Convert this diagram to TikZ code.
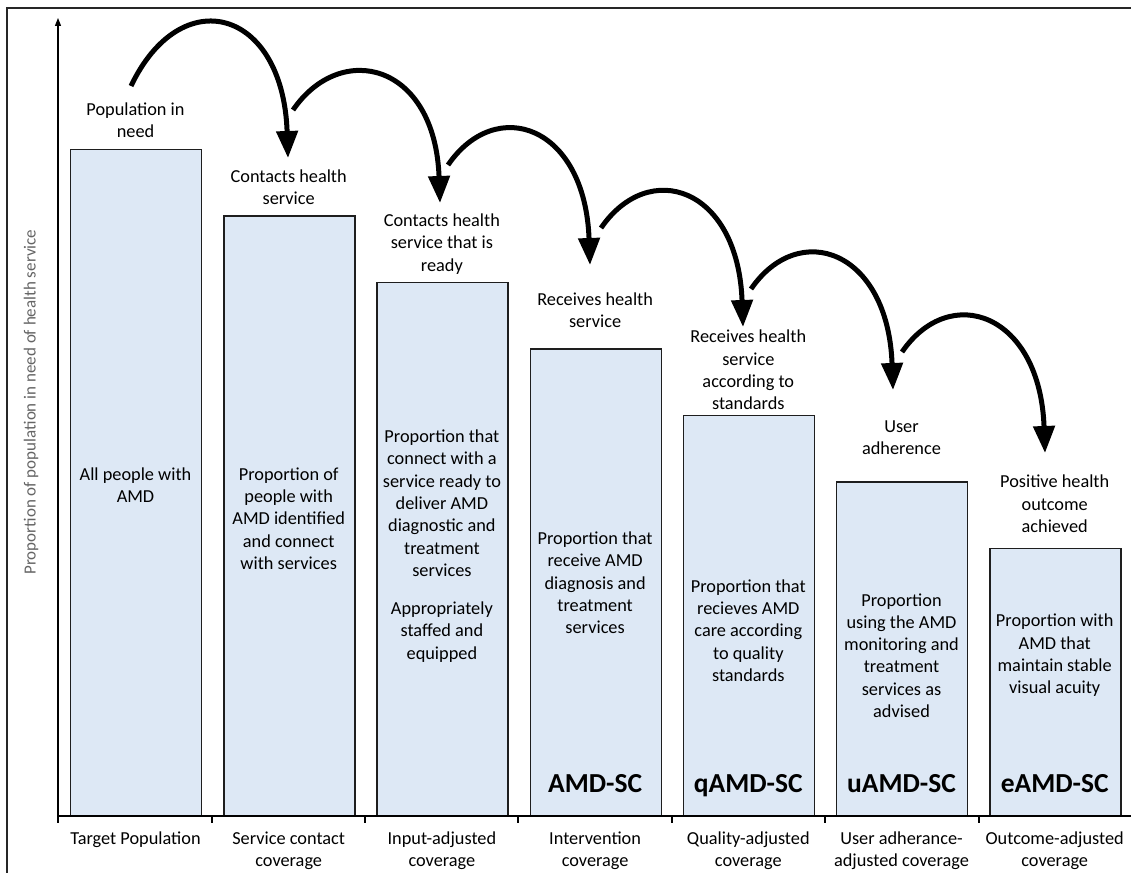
\documentclass[tikz,border=0pt]{standalone}
\usepackage{fontspec}
\setmainfont{Carlito}
\usetikzlibrary{arrows.meta}
\definecolor{barfill}{RGB}{221,232,245}
\definecolor{barline}{RGB}{30,30,30}
\definecolor{axislabel}{RGB}{100,100,100}
\begin{document}
\begin{tikzpicture}[x=1pt,y=-1pt,
  bar/.style={draw=barline, line width=1.3pt, fill=barfill, minimum width=131pt, inner sep=0pt, anchor=south west},
  txt/.style={font=\fontsize{18.3}{22.3}\selectfont, align=center, inner sep=0pt},
  tag/.style={font=\fontsize{27.5}{30}\selectfont\bfseries, inner sep=0pt, anchor=base},
  jump/.style={line width=5pt, -{Triangle[length=27pt,width=21pt]}},
  axisline/.style={line width=1.2pt}
]
\useasboundingbox (0,0) rectangle (1131,872);

% frame
\draw[line width=1.5pt, black!85] (7,880) -- (7,8) -- (1140,8);

% bars
\node[bar, minimum height=666pt]   (b1) at (70,816)    {};
\node[bar, minimum height=599.5pt] (b2) at (223.2,816) {};
\node[bar, minimum height=533pt]   (b3) at (376.4,816) {};
\node[bar, minimum height=466.5pt] (b4) at (529.6,816) {};
\node[bar, minimum height=400pt]   (b5) at (682.8,816) {};
\node[bar, minimum height=333.5pt] (b6) at (836,816)   {};
\node[bar, minimum height=267pt]   (b7) at (989.2,816) {};

% axes
\coordinate (origin) at (58,816);
\coordinate (ytop) at (58,18);
\coordinate (xend) at (1140,816);
\draw[axisline, -{Triangle[length=8pt,width=6pt]}] (origin) -- (ytop);
\draw[axisline] (origin) -- (xend);
\foreach \x in {58,212,365,518,672,825,979}
  \draw[axisline] (\x,816) -- (\x,823);

\node[txt, rotate=90, text=axislabel, font=\fontsize{17}{20}\selectfont] (ylab) at (31,402)
  {Proportion of population in need of health service};

% stage labels above the bars
\node[txt] (h1) at (135.5,120) {Population in\\need};
\node[txt] (h2) at (288.7,187) {Contacts health\\service};
\node[txt] (h3) at (441.9,244) {Contacts health\\service that is\\ready};
\node[txt] (h4) at (595.1,310) {Receives health\\service};
\node[txt] (h5) at (748.3,370) {Receives health\\service\\according to\\standards};
\node[txt] (h6) at (901.5,438) {User\\adherence};
\node[txt] (h7) at (1054.7,504) {Positive health\\outcome\\achieved};

% descriptions inside the bars
\node[txt] (d1) at (135.5,485) {All people with\\AMD};
\node[txt] (d2) at (288.7,518.5) {Proportion of\\people with\\AMD identified\\and connect\\with services};
\node[txt] (d3) at (441.9,546) {Proportion that\\connect with a\\service ready to\\deliver AMD\\diagnostic and\\treatment\\services\\[16pt]Appropriately\\staffed and\\equipped};
\node[txt] (d4) at (595.1,583) {Proportion that\\receive AMD\\diagnosis and\\treatment\\services};
\node[txt] (d5) at (748.3,630.5) {Proportion that\\recieves AMD\\care according\\to quality\\standards};
\node[txt] (d6) at (901.5,655.5) {Proportion\\using the AMD\\monitoring and\\treatment\\services as\\advised};
\node[txt] (d7) at (1054.7,655.5) {Proportion with\\AMD that\\maintain stable\\visual acuity};

% coverage indicators
\node[tag] (k4) at (595.1,792) {AMD-SC};
\node[tag] (k5) at (748.3,792) {qAMD-SC};
\node[tag] (k6) at (901.5,792) {uAMD-SC};
\node[tag] (k7) at (1054.7,792) {eAMD-SC};

% category labels under the axis
\node[txt] (c1) at (135.5,840) {Target Population};
\node[txt] (c2) at (288.7,851) {Service contact\\coverage};
\node[txt] (c3) at (441.9,851) {Input-adjusted\\coverage};
\node[txt] (c4) at (595.1,851) {Intervention\\coverage};
\node[txt] (c5) at (748.3,851) {Quality-adjusted\\coverage};
\node[txt] (c6) at (901.5,851) {User adherance-\\adjusted coverage};
\node[txt] (c7) at (1054.7,851) {Outcome-adjusted\\coverage};

% jumps from one stage to the next
\coordinate (s1) at (131,86);  \coordinate (t1) at (288,158);
\coordinate (s2) at (293,110); \coordinate (t2) at (440,203);
\coordinate (s3) at (448,165); \coordinate (t3) at (590,265);
\coordinate (s4) at (601,228); \coordinate (t4) at (743,327);
\coordinate (s5) at (751,289); \coordinate (t5) at (893,390);
\coordinate (s6) at (902,352); \coordinate (t6) at (1045,453);
\draw[jump] (s1) .. controls +(50,-105) and +(-5,-150) .. (t1);
\draw[jump] (s2) .. controls +(48,-70) and +(-5,-140) .. (t2);
\draw[jump] (s3) .. controls +(48,-70) and +(-5,-140) .. (t3);
\draw[jump] (s4) .. controls +(48,-70) and +(-5,-140) .. (t4);
\draw[jump] (s5) .. controls +(48,-70) and +(-5,-140) .. (t5);
\draw[jump] (s6) .. controls +(48,-70) and +(-5,-140) .. (t6);
\end{tikzpicture}
\end{document}
